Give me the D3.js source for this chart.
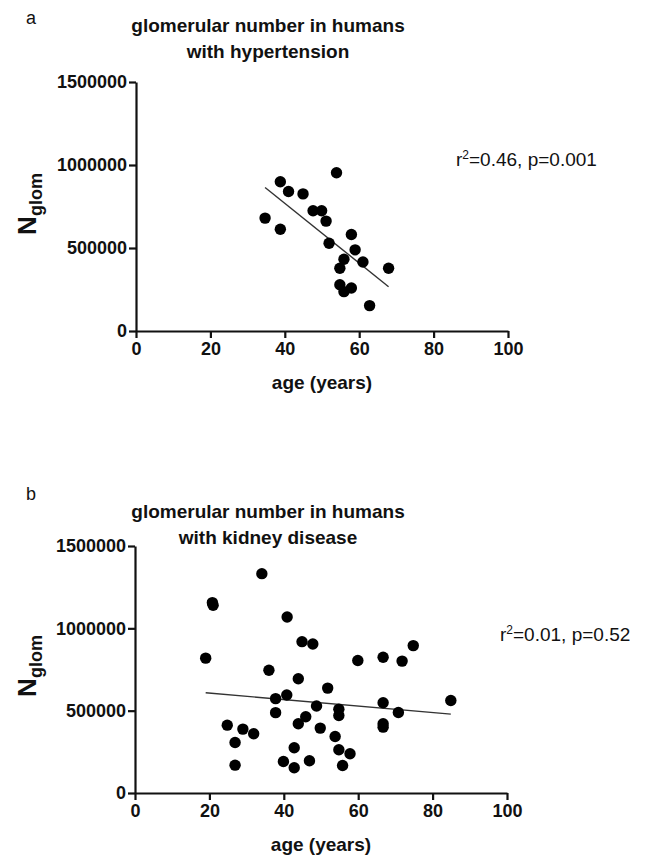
<!DOCTYPE html>
<html>
<head>
<meta charset="utf-8">
<script src="https://cdnjs.cloudflare.com/ajax/libs/d3/7.8.5/d3.min.js"></script>
<style>
  body { margin: 0; background: #fff; }
  svg { font-family: "Liberation Sans", Arial, Helvetica, sans-serif; }
</style>
</head>
<body>
<div id="fig"></div>
<script>
// tick labels
var xTicks = [0, 20, 40, 60, 80, 100];
var yTicks = [0, 500000, 1000000, 1500000];

// panel a: hypertension
var htnAge = [34.7, 38.8, 38.8, 41.0, 44.9, 47.6, 49.9, 51.1, 53.9, 51.9,
              57.9, 58.9, 55.9, 54.8, 61.0, 67.9, 54.8, 55.9, 57.9, 62.8];
var htnN = [680000, 899000, 613000, 840000, 826000, 724000, 724000, 662000, 953000, 529000,
            581000, 489000, 432000, 378000, 416000, 378000, 279000, 237000, 259000, 153000];
var htnFitAge = [34.7, 67.9];
var htnFitN = [864000, 267000];

// panel b: kidney disease
var ckdAge = [34.1, 20.8, 21.0, 40.9, 44.9, 47.8, 19.0, 36.0, 43.9, 51.8,
              37.8, 40.8, 48.8, 37.8, 45.9, 43.9, 49.8, 24.8, 29.0, 31.9,
              26.9, 26.9, 42.8, 39.9, 46.9, 42.8, 59.9, 66.7, 71.8, 74.8,
              54.8, 54.8, 66.7, 70.8, 84.9, 66.7, 66.7, 53.8, 54.8, 57.8, 55.8];
var ckdN = [1332000, 1156000, 1140000, 1069000, 919000, 905000, 819000, 745000, 694000, 637000,
            573000, 595000, 528000, 488000, 463000, 421000, 394000, 412000, 388000, 360000,
            307000, 169000, 275000, 191000, 196000, 153000, 805000, 824000, 801000, 895000,
            509000, 471000, 548000, 489000, 562000, 421000, 400000, 343000, 263000, 238000, 167000];
var ckdFitAge = [19.0, 84.9];
var ckdFitN = [609000, 479000];

var svg = d3.select("#fig").append("svg")
  .attr("width", 646).attr("height", 859);

var panels = [
  {letter: "a", title: ["glomerular number in humans", "with hypertension"],
   age: htnAge, n: htnN, fitAge: htnFitAge, fitN: htnFitN,
   stat: "0.46, p=0.001", letterY: 24, titleY: 32,
   x0: 136, x1: 508, y0: 331, y1: 82, statX: 456, statY: 166},
  {letter: "b", title: ["glomerular number in humans", "with kidney disease"],
   age: ckdAge, n: ckdN, fitAge: ckdFitAge, fitN: ckdFitN,
   stat: "0.01, p=0.52", letterY: 500, titleY: 518,
   x0: 135, x1: 507, y0: 793, y1: 546, statX: 500, statY: 641}
];

panels.forEach(function(p) {
  var g = svg.append("g");
  var x = d3.scaleLinear().domain([0, 100]).range([p.x0, p.x1]);
  var y = d3.scaleLinear().domain([0, 1500000]).range([p.y0, p.y1]);

  // panel letter + title
  g.append("text").attr("x", 26).attr("y", p.letterY)
    .style("font-size", "18px").attr("fill", "#111").text(p.letter);
  p.title.forEach(function(t, i) {
    g.append("text").attr("x", 268).attr("y", p.titleY + i * 26)
      .attr("text-anchor", "middle").style("font-size", "19px").style("font-weight", "bold")
      .attr("fill", "#111").text(t);
  });

  // axes
  var ya = g.append("g").attr("transform", "translate(" + p.x0 + ",0)")
    .call(d3.axisLeft(y).tickValues(yTicks).tickFormat(d3.format("d")).tickSize(7).tickSizeOuter(0).tickPadding(2));
  var xa = g.append("g").attr("transform", "translate(0," + p.y0 + ")")
    .call(d3.axisBottom(x).tickValues(xTicks).tickSize(7).tickSizeOuter(0).tickPadding(4));
  [ya, xa].forEach(function(a) {
    a.selectAll("path, line").attr("stroke", "#111").attr("stroke-width", 2.2);
    a.selectAll("text").attr("fill", "#111")
      .style("font-size", "18px").style("font-weight", "bold")
      .style("font-family", "'Liberation Sans', Arial, sans-serif");
  });

  // axis titles
  g.append("text").attr("x", (p.x0 + p.x1) / 2).attr("y", p.y0 + 58)
    .attr("text-anchor", "middle").style("font-size", "19px").style("font-weight", "bold")
    .attr("fill", "#111").text("age (years)");
  var yl = g.append("text")
    .attr("transform", "translate(36," + (p.y0 - 127) + ") rotate(-90)")
    .attr("text-anchor", "middle").style("font-weight", "bold").attr("fill", "#111");
  yl.append("tspan").style("font-size", "26px").text("N");
  yl.append("tspan").attr("dy", 6).style("font-size", "18px").text("glom");

  // fit line
  g.append("line")
    .attr("x1", x(p.fitAge[0])).attr("y1", y(p.fitN[0]))
    .attr("x2", x(p.fitAge[1])).attr("y2", y(p.fitN[1]))
    .attr("stroke", "#333").attr("stroke-width", 1.4);

  // points
  g.selectAll("circle.pt")
    .data(p.age.map(function(a, i) { return {age: a, n: p.n[i]}; }))
    .enter().append("circle")
      .attr("class", "pt")
      .attr("cx", function(d) { return x(d.age); })
      .attr("cy", function(d) { return y(d.n); })
      .attr("r", 5.7)
      .attr("fill", "#000");

  // r^2 / p text
  var st = g.append("text").attr("x", p.statX).attr("y", p.statY)
    .style("font-size", "19px").attr("fill", "#111");
  st.append("tspan").text("r");
  st.append("tspan").attr("dy", -7).style("font-size", "12px").text("2");
  st.append("tspan").attr("dy", 7).text("=" + p.stat);
});
</script>
</body>
</html>
